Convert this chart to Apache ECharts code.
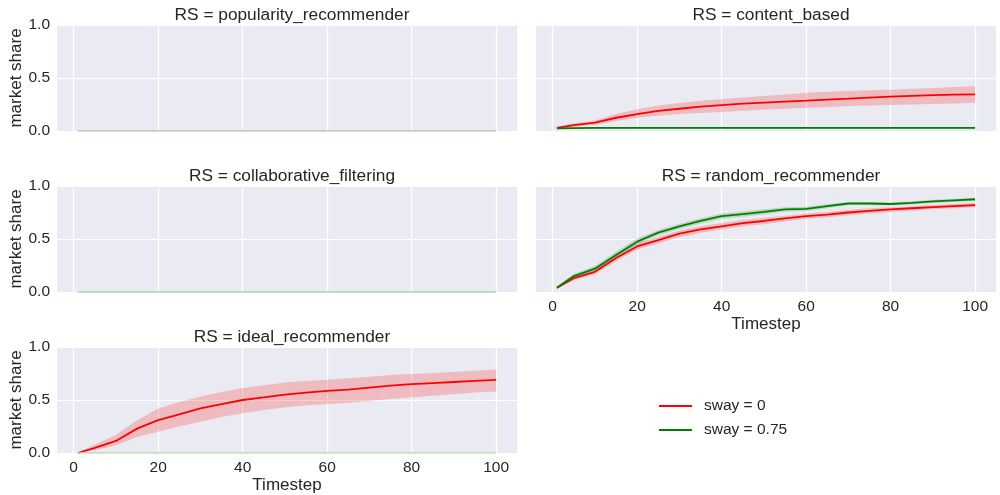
<!DOCTYPE html>
<html>
<head>
<meta charset="utf-8">
<script src="https://cdn.jsdelivr.net/npm/echarts@6/dist/echarts.min.js"></script>
<style>
  html, body { margin: 0; padding: 0; background: #ffffff; }
  #chart { width: 1000px; height: 495px; }
</style>
</head>
<body>
<div id="chart"></div>
<script>
// Timesteps at which the market share was sampled
const timesteps = [1, 5, 10, 15, 20, 25, 30, 35, 40, 45, 50, 55, 60, 65, 70, 75, 80, 85, 90, 95, 100];

const panelTitles = [
  'RS = popularity_recommender',
  'RS = content_based',
  'RS = collaborative_filtering',
  'RS = random_recommender',
  'RS = ideal_recommender'
];
const swayLabels = ['sway = 0', 'sway = 0.75'];
const xTicks = [0, 20, 40, 60, 80, 100];

// popularity_recommender: both sway settings stay at zero
const popularitySway0 = [0, 0, 0, 0, 0, 0, 0, 0, 0, 0, 0, 0, 0, 0, 0, 0, 0, 0, 0, 0, 0];
const popularitySway075 = [0, 0, 0, 0, 0, 0, 0, 0, 0, 0, 0, 0, 0, 0, 0, 0, 0, 0, 0, 0, 0];

// content_based
const contentSway0 = [0.03, 0.055, 0.08, 0.125, 0.16, 0.19, 0.21, 0.23, 0.245, 0.258, 0.268, 0.277, 0.286, 0.296, 0.305, 0.315, 0.324, 0.332, 0.338, 0.343, 0.346];
const contentSway0Upper = [0.04, 0.07, 0.10, 0.16, 0.205, 0.24, 0.265, 0.285, 0.30, 0.315, 0.33, 0.345, 0.36, 0.37, 0.378, 0.385, 0.39, 0.398, 0.405, 0.415, 0.425];
const contentSway0Lower = [0.02, 0.04, 0.06, 0.095, 0.125, 0.145, 0.16, 0.17, 0.18, 0.19, 0.20, 0.21, 0.22, 0.225, 0.235, 0.24, 0.245, 0.25, 0.255, 0.26, 0.267];
const contentSway075 = [0.025, 0.028, 0.03, 0.03, 0.03, 0.03, 0.03, 0.03, 0.03, 0.03, 0.03, 0.03, 0.03, 0.03, 0.03, 0.03, 0.03, 0.03, 0.03, 0.03, 0.03];
const contentSway075Upper = [0.031, 0.034, 0.037, 0.037, 0.037, 0.037, 0.037, 0.037, 0.037, 0.037, 0.037, 0.037, 0.037, 0.037, 0.037, 0.037, 0.037, 0.037, 0.037, 0.037, 0.037];
const contentSway075Lower = [0.019, 0.021, 0.022, 0.022, 0.022, 0.022, 0.022, 0.022, 0.022, 0.022, 0.022, 0.022, 0.022, 0.022, 0.022, 0.022, 0.022, 0.022, 0.022, 0.022, 0.022];

// collaborative_filtering: both sway settings stay at zero
const collabSway0 = [0, 0, 0, 0, 0, 0, 0, 0, 0, 0, 0, 0, 0, 0, 0, 0, 0, 0, 0, 0, 0];
const collabSway075 = [0, 0, 0, 0, 0, 0, 0, 0, 0, 0, 0, 0, 0, 0, 0, 0, 0, 0, 0, 0, 0];

// random_recommender
const randomSway0 = [0.04, 0.13, 0.19, 0.32, 0.43, 0.49, 0.55, 0.59, 0.62, 0.65, 0.67, 0.695, 0.715, 0.73, 0.75, 0.765, 0.78, 0.79, 0.80, 0.81, 0.82];
const randomSway0Upper = [0.05, 0.15, 0.21, 0.35, 0.46, 0.52, 0.58, 0.62, 0.65, 0.68, 0.70, 0.72, 0.74, 0.755, 0.775, 0.79, 0.80, 0.81, 0.82, 0.83, 0.84];
const randomSway0Lower = [0.03, 0.11, 0.17, 0.29, 0.40, 0.46, 0.52, 0.56, 0.59, 0.62, 0.64, 0.665, 0.69, 0.705, 0.725, 0.74, 0.755, 0.77, 0.78, 0.79, 0.80];
const randomSway075 = [0.04, 0.15, 0.22, 0.35, 0.475, 0.56, 0.62, 0.67, 0.715, 0.735, 0.755, 0.78, 0.785, 0.81, 0.835, 0.835, 0.83, 0.84, 0.855, 0.865, 0.875];
const randomSway075Upper = [0.05, 0.17, 0.245, 0.38, 0.505, 0.585, 0.645, 0.695, 0.74, 0.76, 0.78, 0.80, 0.805, 0.83, 0.85, 0.85, 0.845, 0.855, 0.87, 0.88, 0.89];
const randomSway075Lower = [0.03, 0.13, 0.195, 0.32, 0.445, 0.535, 0.595, 0.645, 0.69, 0.71, 0.73, 0.76, 0.765, 0.79, 0.82, 0.82, 0.815, 0.825, 0.84, 0.85, 0.86];

// ideal_recommender
const idealSway0 = [0.0, 0.048, 0.114, 0.23, 0.31, 0.365, 0.42, 0.46, 0.50, 0.524, 0.55, 0.57, 0.587, 0.597, 0.616, 0.635, 0.65, 0.66, 0.67, 0.68, 0.69];
const idealSway0Upper = [0.005, 0.08, 0.17, 0.31, 0.42, 0.48, 0.533, 0.575, 0.613, 0.64, 0.665, 0.68, 0.69, 0.705, 0.72, 0.735, 0.746, 0.755, 0.765, 0.775, 0.787];
const idealSway0Lower = [0.0, 0.025, 0.073, 0.15, 0.20, 0.25, 0.295, 0.34, 0.375, 0.405, 0.43, 0.45, 0.46, 0.475, 0.49, 0.51, 0.524, 0.54, 0.555, 0.57, 0.58];
const idealSway075 = [0, 0, 0, 0, 0, 0, 0, 0, 0, 0, 0, 0, 0, 0, 0, 0, 0, 0, 0, 0, 0];

const FONT = '"Liberation Sans", Arial, sans-serif';
const TEXT = '#262626';
const RED = '#ff0000';
const GREEN = '#008000';
const RED_BAND = 'rgba(255,0,0,0.2)';
const GREEN_BAND = 'rgba(0,128,0,0.2)';

// Panel placement: [left, top] of each plotting area
const panelBoxes = [
  [57, 25], [536, 25],
  [57, 186], [536, 186],
  [57, 347]
];
const PANEL_W = 460, PANEL_H = 106;

const pairs = (ys) => timesteps.map((t, i) => [t, ys[i]]);

const grids = panelBoxes.map(([l, t]) => ({
  left: l, top: t, width: PANEL_W, height: PANEL_H,
  show: true, backgroundColor: '#eaeaf2', borderWidth: 0
}));

const xAxes = panelBoxes.map((_, i) => {
  const showLabels = (i === 3 || i === 4);
  return {
    type: 'value', gridIndex: i, min: -3.95, max: 104.95,
    axisLine: { show: false },
    axisTick: { show: false, customValues: xTicks },
    axisLabel: {
      show: showLabels, customValues: xTicks, margin: 7,
      color: TEXT, fontFamily: FONT, fontSize: 15.5
    },
    splitLine: { show: true, lineStyle: { color: '#ffffff', width: 1.2 } },
    name: showLabels ? 'Timestep' : '',
    nameLocation: 'middle', nameGap: 24,
    nameTextStyle: { color: TEXT, fontFamily: FONT, fontSize: 17 }
  };
});

const yAxes = panelBoxes.map((_, i) => {
  const left = (i % 2 === 0);
  return {
    type: 'value', gridIndex: i, min: 0, max: 1, interval: 0.5,
    axisLine: { show: false },
    axisTick: { show: false },
    axisLabel: {
      show: left, margin: 7, color: TEXT, fontFamily: FONT, fontSize: 15.5,
      formatter: (v) => v.toFixed(1)
    },
    splitLine: { show: true, lineStyle: { color: '#ffffff', width: 1.2 } },
    name: left ? 'market share' : '',
    nameLocation: 'middle', nameGap: 29, nameRotate: 90,
    nameTextStyle: { color: TEXT, fontFamily: FONT, fontSize: 17 }
  };
});

const titles = panelBoxes.map(([l, t], i) => ({
  text: panelTitles[i],
  left: l + PANEL_W / 2, top: t - 23, textAlign: 'center',
  textStyle: { color: TEXT, fontFamily: FONT, fontSize: 17.3, fontWeight: 'normal' }
}));

const series = [];

// Confidence band: polygon through the upper bounds and back along the lower bounds
function band(panel, lo, hi, color) {
  const rows = timesteps.map((t, i) => [t, lo[i], hi[i]]);
  series.push({
    type: 'custom', xAxisIndex: panel, yAxisIndex: panel,
    data: rows, encode: { x: 0, y: [1, 2] }, silent: true, z: 1, clip: true,
    renderItem: (params, api) => {
      if (params.dataIndex !== 0) return null;
      const top = rows.map((r) => api.coord([r[0], r[2]]));
      const bottom = rows.map((r) => api.coord([r[0], r[1]])).reverse();
      return {
        type: 'polygon',
        shape: { points: top.concat(bottom) },
        style: { fill: color }
      };
    }
  });
}

function line(panel, ys, name, color, width) {
  series.push({
    type: 'line', name: name, xAxisIndex: panel, yAxisIndex: panel,
    data: pairs(ys), symbol: 'none', z: 3,
    lineStyle: { color: color, width: width },
    itemStyle: { color: color }
  });
}

band(1, contentSway0Lower, contentSway0Upper, RED_BAND);
band(1, contentSway075Lower, contentSway075Upper, GREEN_BAND);
band(3, randomSway0Lower, randomSway0Upper, RED_BAND);
band(3, randomSway075Lower, randomSway075Upper, GREEN_BAND);
band(4, idealSway0Lower, idealSway0Upper, RED_BAND);

line(1, contentSway0, swayLabels[0], RED, 1.8);
line(1, contentSway075, swayLabels[1], GREEN, 1.8);
line(3, randomSway0, swayLabels[0], RED, 1.8);
line(3, randomSway075, swayLabels[1], GREEN, 1.8);
line(4, idealSway0, swayLabels[0], RED, 1.8);

// Curves that stay flat at zero show only as a faint trace on the panel edge
line(0, popularitySway0, swayLabels[0], '#d2cbb9', 1.5);
line(0, popularitySway075, swayLabels[1], '#d2cbb9', 1.5);
line(2, collabSway0, swayLabels[0], '#b5dbb3', 1.5);
line(2, collabSway075, swayLabels[1], '#b5dbb3', 1.5);
line(4, idealSway075, swayLabels[1], '#b5dbb3', 1.5);

const chart = echarts.init(document.getElementById('chart'), null, { renderer: 'canvas' });
chart.setOption({
  animation: false,
  backgroundColor: '#ffffff',
  title: titles,
  grid: grids,
  xAxis: xAxes,
  yAxis: yAxes,
  legend: {
    data: [
      { name: swayLabels[0], icon: 'rect', itemStyle: { color: RED } },
      { name: swayLabels[1], icon: 'rect', itemStyle: { color: GREEN } }
    ],
    orient: 'vertical', left: 659, top: 397, padding: 0,
    itemWidth: 33, itemHeight: 2, itemGap: 6,
    selectedMode: false,
    textStyle: { color: TEXT, fontFamily: FONT, fontSize: 15.5, lineHeight: 18, padding: [0, 0, 0, 7] }
  },
  series: series
});
</script>
</body>
</html>
